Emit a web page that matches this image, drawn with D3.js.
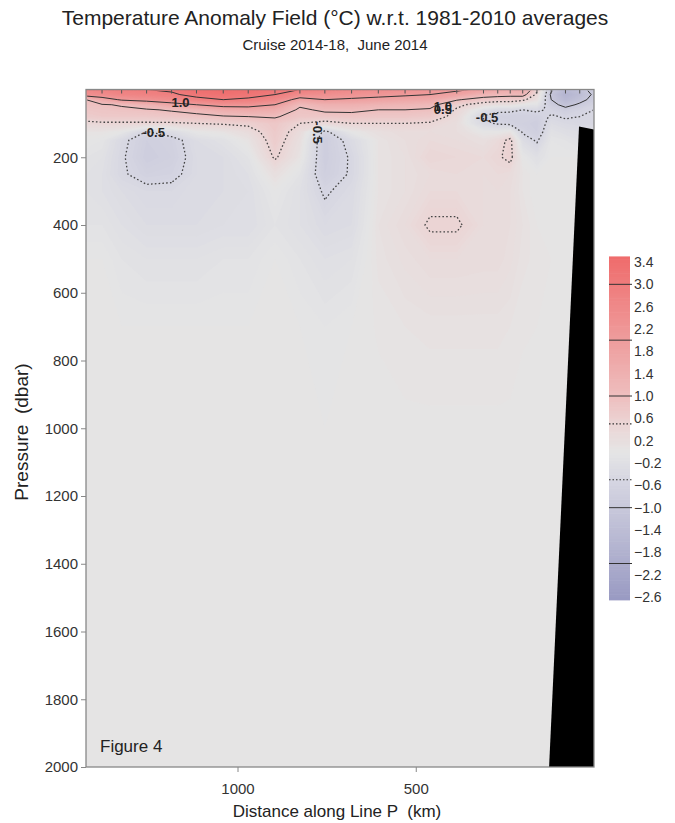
<!DOCTYPE html>
<html>
<head>
<meta charset="utf-8">
<script src="https://cdn.jsdelivr.net/npm/d3@7"></script>
<style>
body { margin: 0; background: #fff; }
svg { font-family: "Liberation Sans", Arial, sans-serif; }
svg text { white-space: pre; }
.axis text { font-size: 15px; fill: #333; }
.axis line { stroke: #888; }
.axis path { display: none; }
</style>
</head>
<body>
<div id="chart"></div>
<script>
//Global sizes
const width = 675;
const height = 823;

//Grid columns: stations along Line P (km)
const stations = [1425, 1380, 1325, 1255, 1185, 1115, 1040, 970, 895, 825, 755, 680, 605,
                  530, 460, 385, 310, 270, 235, 200, 160, 120, 80, 40, 0];
//Grid rows: pressure levels (dbar)
const pressures = [0, 15, 30, 45, 60, 80, 100, 125, 150, 200, 250, 300, 400, 500, 700, 1000, 1500, 2000];

//Temperature anomaly (°C), one profile per station, values at the pressure levels above
const anomaly = [
  [2.7, 2.4, 1.0, 0.9, 0.8, 0.7, 0.4, 0.1, 0.0, -0.1, -0.15, -0.15, -0.1, 0.0, 0.03, 0.02, 0.0, 0.0],
  [2.8, 2.5, 1.6, 0.95, 0.85, 0.75, 0.45, 0.1, -0.05, -0.15, -0.2, -0.2, -0.1, 0.0, 0.03, 0.02, 0.0, 0.0],
  [2.9, 2.7, 2.1, 1.05, 0.9, 0.75, 0.45, 0.0, -0.4, -0.45, -0.45, -0.3, -0.2, -0.1, 0.0, 0.02, 0.0, 0.0],
  [3.0, 2.8, 2.3, 1.3, 0.95, 0.75, 0.45, -0.52, -0.75, -0.8, -0.65, -0.4, -0.3, -0.15, 0.0, 0.02, 0.0, 0.0],
  [3.1, 2.9, 2.5, 1.7, 1.05, 0.8, 0.45, -0.3, -0.65, -0.7, -0.6, -0.4, -0.3, -0.15, 0.0, 0.02, 0.0, 0.0],
  [3.4, 3.2, 2.8, 2.0, 1.2, 0.85, 0.5, 0.0, -0.3, -0.35, -0.35, -0.3, -0.3, -0.15, 0.0, 0.02, 0.0, 0.0],
  [3.5, 3.3, 3.0, 2.3, 1.5, 0.95, 0.55, 0.1, -0.15, -0.3, -0.3, -0.3, -0.25, -0.1, 0.0, 0.02, 0.0, 0.0],
  [3.4, 3.2, 2.9, 2.3, 1.6, 1.0, 0.6, 0.3, 0.1, -0.1, -0.2, -0.25, -0.25, -0.1, 0.0, 0.02, 0.0, 0.0],
  [3.2, 3.0, 2.6, 2.0, 1.5, 1.05, 0.8, 0.75, 0.7, 0.55, 0.2, 0.0, -0.1, 0.0, 0.03, 0.02, 0.0, 0.0],
  [3.0, 2.5, 1.7, 1.1, 0.9, 0.8, 0.5, 0.3, 0.2, 0.1, -0.1, -0.2, -0.2, -0.1, 0.0, 0.02, 0.0, 0.0],
  [2.8, 2.4, 2.0, 1.4, 1.1, 0.8, 0.35, -0.6, -0.8, -0.8, -0.75, -0.55, -0.35, -0.2, -0.05, 0.0, 0.0, 0.0],
  [2.6, 2.3, 1.9, 1.4, 1.1, 0.85, 0.5, 0.0, -0.35, -0.45, -0.45, -0.35, -0.3, -0.15, 0.0, 0.02, 0.0, 0.0],
  [2.5, 2.2, 1.8, 1.3, 1.0, 0.8, 0.5, 0.2, 0.1, 0.1, 0.1, 0.1, 0.15, 0.12, 0.06, 0.02, 0.0, 0.0],
  [2.4, 2.1, 1.7, 1.25, 1.0, 0.8, 0.5, 0.3, 0.25, 0.2, 0.2, 0.2, 0.3, 0.22, 0.1, 0.03, 0.0, 0.0],
  [2.3, 2.0, 1.6, 1.15, 0.95, 0.75, 0.45, 0.3, 0.35, 0.45, 0.3, 0.35, 0.55, 0.3, 0.12, 0.03, 0.0, 0.0],
  [2.1, 1.8, 1.05, 0.6, 0.45, 0.35, 0.25, 0.25, 0.3, 0.4, 0.35, 0.35, 0.55, 0.3, 0.12, 0.03, 0.0, 0.0],
  [1.9, 1.3, 0.75, 0.3, -0.2, -0.55, -0.4, 0.0, 0.2, 0.35, 0.3, 0.3, 0.3, 0.28, 0.12, 0.03, 0.0, 0.0],
  [1.7, 1.2, 0.7, 0.2, -0.4, -0.65, -0.55, 0.0, 0.35, 0.45, 0.35, 0.3, 0.3, 0.28, 0.12, 0.03, 0.0, 0.0],
  [1.6, 1.15, 0.7, 0.2, -0.4, -0.7, -0.6, 0.1, 0.6, 0.6, 0.3, 0.25, 0.25, 0.22, 0.1, 0.03, 0.0, 0.0],
  [1.6, 1.2, 0.6, 0.0, -0.5, -0.7, -0.7, -0.55, -0.3, 0.0, 0.1, 0.1, 0.15, 0.12, 0.06, 0.02, 0.0, 0.0],
  [0.6, 0.4, 0.2, -0.1, -0.4, -0.7, -0.8, -0.75, -0.55, -0.2, 0.0, 0.0, 0.05, 0.08, 0.05, 0.02, 0.0, 0.0],
  [-0.9, -1.1, -1.0, -0.8, -0.6, -0.45, -0.3, -0.15, -0.05, 0.0, 0.0, 0.0, 0.05, 0.05, 0.03, 0.0, 0.0, 0.0],
  [-1.5, -1.7, -1.5, -1.2, -0.8, -0.55, -0.4, -0.25, -0.1, 0.0, 0.0, 0.0, 0.0, 0.0, 0.0, 0.0, 0.0, 0.0],
  [-1.2, -1.4, -1.2, -0.9, -0.6, -0.5, -0.45, -0.3, -0.2, 0.0, 0.0, 0.0, 0.0, 0.0, 0.0, 0.0, 0.0, 0.0],
  [-0.8, -0.9, -0.8, -0.6, -0.5, -0.5, -0.45, -0.2, -0.1, 0.0, 0.0, 0.0, 0.0, 0.0, 0.0, 0.0, 0.0, 0.0]
];

//Sea floor outline (km, dbar)
const bottomKm = [126, 42, 0, 0];
const bottomDbar = [2000, 109, 118, 2000];

//Contour levels drawn as lines, dashed ones are +/-0.5
const lineLevels = [-2, -1, -0.5, 0.5, 1, 2, 3];
const dashedLevels = [-0.5, 0.5];

//Contour labels (text, km, dbar, rotation)
const labelText = ["1.0", "-0.5", "-0.5", "1.0", "0.5", "-0.5"];
const labelKm = [1160, 1235, 775, 424, 424, 300];
const labelDbar = [38, 127, 127, 50, 58, 83];
const labelAngle = [0, 0, 90, 0, 0, 0];

//Axis ticks
const pressureTicks = [200, 400, 600, 800, 1000, 1200, 1400, 1600, 1800, 2000];
const distanceTicks = [1000, 500];
const legendTicks = [3.4, 3.0, 2.6, 2.2, 1.8, 1.4, 1.0, 0.6, 0.2, -0.2, -0.6, -1.0, -1.4, -1.8, -2.2, -2.6];
const legendLines = [3, 2, 1, 0.5, -0.5, -1, -2];

//Scales
const xScale = d3.scaleLinear().domain([1425, 0]).range([86, 594]);
const yScale = d3.scaleLinear().domain([0, 2000]).range([89.5, 767]);
const colorScale = d3.scaleLinear()
    .domain([-2.6, -0.5, 0, 0.5, 1, 3.4])
    .range(["#9a9bc3", "#d6d6e2", "#e5e5e5", "#ebd5d5", "#eebebe", "#ef6f6f"]);

const svg = d3.select("#chart")
    .append("svg")
    .attr("width", width)
    .attr("height", height);

//Clip for the field
svg.append("clipPath").attr("id", "plotClip")
    .append("rect")
    .attr("x", xScale(1425)).attr("y", yScale(0))
    .attr("width", xScale(0) - xScale(1425))
    .attr("height", yScale(2000) - yScale(0));
svg.append("clipPath").attr("id", "lineClip")
    .append("rect")
    .attr("x", xScale(1425) + 1.2).attr("y", yScale(0) + 1.2)
    .attr("width", xScale(0) - xScale(1425) - 2.4)
    .attr("height", yScale(2000) - yScale(0) - 2.4);

//Flatten profiles into row-major grid for d3.contours
const nx = stations.length, ny = pressures.length;
const values = [];
for (let j = 0; j < ny; j++) {
    for (let i = 0; i < nx; i++) values.push(anomaly[i][j]);
}

//grid coordinate -> data value (samples sit at cell centres)
function gridToData(arr, g) {
    const t = Math.max(0, Math.min(arr.length - 1, g - 0.5));
    const i = Math.min(arr.length - 2, Math.floor(t));
    return arr[i] + (arr[i + 1] - arr[i]) * (t - i);
}
const gridPath = d3.geoPath(d3.geoTransform({
    point: function(gx, gy) {
        this.stream.point(xScale(gridToData(stations, gx)), yScale(gridToData(pressures, gy)));
    }
}));

//Filled field
const fillLevels = d3.range(-2.6, 3.6, 0.05);
const bands = d3.contours().size([nx, ny]).thresholds(fillLevels)(values);
svg.append("g")
    .attr("clip-path", "url(#plotClip)")
    .selectAll("path")
    .data(bands)
    .enter()
    .append("path")
    .attr("d", gridPath)
    .attr("fill", d => colorScale(d.value + 0.025));

//Contour lines
const isolines = d3.contours().size([nx, ny]).thresholds(lineLevels)(values);
svg.append("g")
    .attr("clip-path", "url(#lineClip)")
    .selectAll("path")
    .data(isolines)
    .enter()
    .append("path")
    .attr("d", gridPath)
    .attr("fill", "none")
    .attr("stroke", d => dashedLevels.includes(d.value) ? "#444" : "#333")
    .attr("stroke-width", d => dashedLevels.includes(d.value) ? 1.3 : 1)
    .attr("stroke-dasharray", d => dashedLevels.includes(d.value) ? "1.6,2.2" : null);

//Sea floor
svg.append("path")
    .datum(bottomKm.map((k, i) => [xScale(k), yScale(bottomDbar[i])]))
    .attr("d", d => "M" + d.join("L") + "Z")
    .attr("fill", "#000");

//Contour labels
svg.append("g")
    .selectAll("text")
    .data(labelText)
    .enter()
    .append("text")
    .attr("transform", (d, i) => "translate(" + xScale(labelKm[i]) + "," + yScale(labelDbar[i]) + ") rotate(" + labelAngle[i] + ")")
    .attr("text-anchor", "middle")
    .attr("dy", "0.35em")
    .style("font-size", "13px")
    .style("font-weight", "bold")
    .style("fill", "#222")
    .text(d => d);

//Station marks along the top
svg.append("g")
    .selectAll("line")
    .data(stations.slice(1, -1))
    .enter()
    .append("line")
    .attr("x1", d => xScale(d)).attr("x2", d => xScale(d))
    .attr("y1", yScale(0)).attr("y2", yScale(0) + 4)
    .attr("stroke", "#555");

//Frame
svg.append("rect")
    .attr("x", xScale(1425)).attr("y", yScale(0))
    .attr("width", xScale(0) - xScale(1425))
    .attr("height", yScale(2000) - yScale(0))
    .attr("fill", "none")
    .attr("stroke", "#888")
    .attr("stroke-width", 1.3);

//Axes
svg.append("g")
    .attr("class", "axis")
    .attr("transform", "translate(" + xScale(1425) + ",0)")
    .call(d3.axisLeft(yScale).tickValues(pressureTicks).tickSize(5).tickPadding(3).tickFormat(d3.format("d")));

svg.append("g")
    .attr("class", "axis")
    .attr("transform", "translate(0," + yScale(2000) + ")")
    .call(d3.axisBottom(xScale).tickValues(distanceTicks).tickSize(5).tickPadding(11).tickFormat(d3.format("d")));

//Axis labels
svg.append("text")
    .attr("x", 337).attr("y", 817)
    .attr("text-anchor", "middle")
    .style("font-size", "17px").style("fill", "#222")
    .text("Distance along Line P  (km)");

svg.append("text")
    .attr("transform", "translate(28,432) rotate(-90)")
    .attr("text-anchor", "middle")
    .style("font-size", "19px").style("fill", "#222")
    .text("Pressure  (dbar)");

//Titles
svg.append("text")
    .attr("x", 335).attr("y", 25)
    .attr("text-anchor", "middle")
    .style("font-size", "21px").style("fill", "#222")
    .text("Temperature Anomaly Field (°C) w.r.t. 1981-2010 averages");

svg.append("text")
    .attr("x", 335).attr("y", 50)
    .attr("text-anchor", "middle")
    .style("font-size", "15px").style("fill", "#222")
    .text("Cruise 2014-18,  June 2014");

svg.append("text")
    .attr("x", 100).attr("y", 752)
    .style("font-size", "17px").style("fill", "#222")
    .text("Figure 4");

//Legend
const legendY = d3.scaleLinear().domain([3.4, -2.6]).range([262, 597]);
const legend = svg.append("g");
legend.selectAll("rect")
    .data(d3.range(-2.65, 3.5, 0.05))
    .enter()
    .append("rect")
    .attr("x", 609)
    .attr("y", d => legendY(d + 0.05))
    .attr("width", 21)
    .attr("height", d => legendY(d) - legendY(d + 0.05) + 0.6)
    .attr("fill", d => colorScale(d + 0.025));

legend.selectAll("line")
    .data(legendLines)
    .enter()
    .append("line")
    .attr("x1", 609).attr("x2", 632)
    .attr("y1", d => legendY(d)).attr("y2", d => legendY(d))
    .attr("stroke", "#333")
    .attr("stroke-width", d => dashedLevels.includes(d) ? 1.2 : 1)
    .attr("stroke-dasharray", d => dashedLevels.includes(d) ? "1.5,2" : null);

legend.selectAll("text")
    .data(legendTicks)
    .enter()
    .append("text")
    .attr("x", 634)
    .attr("y", d => legendY(d))
    .attr("dy", "0.35em")
    .style("font-size", "14px").style("fill", "#333")
    .text(d => d3.format(".1f")(d));
</script>
</body>
</html>
